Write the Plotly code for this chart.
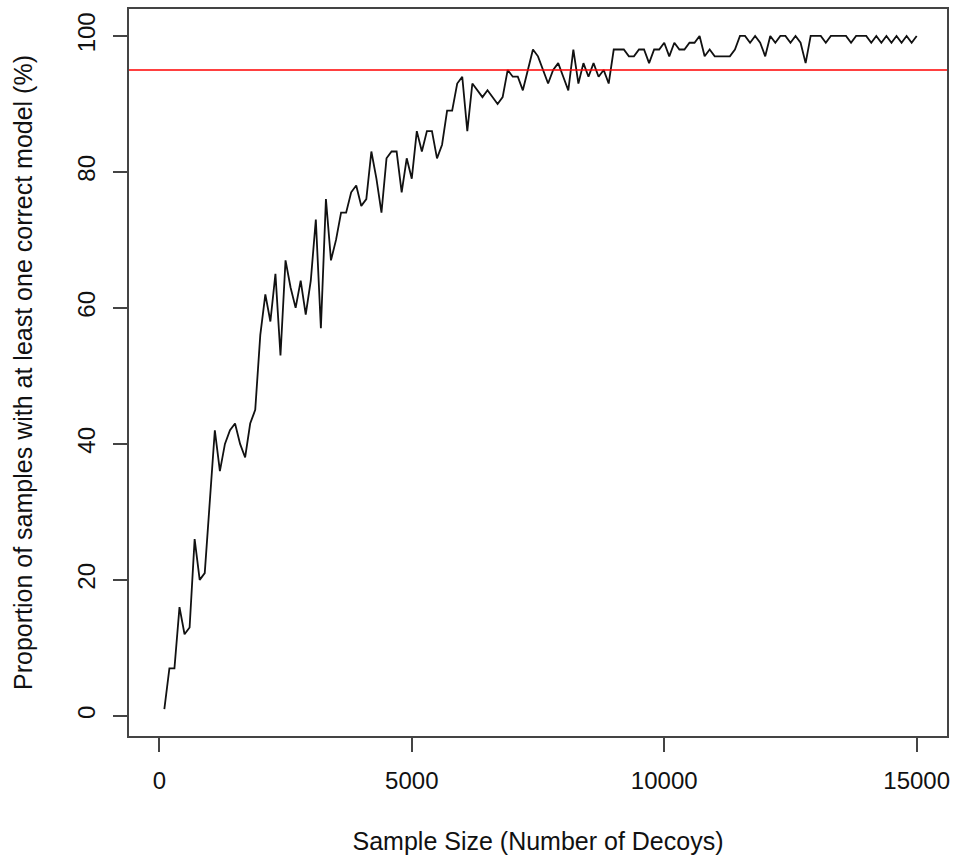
import plotly.graph_objects as go

sample_size = list(range(100, 15001, 100))
proportion = [
    1, 7, 7, 16, 12, 13, 26, 20, 21, 31,
    42, 36, 40, 42, 43, 40, 38, 43, 45, 56,
    62, 58, 65, 53, 67, 63, 60, 64, 59, 64,
    73, 57, 76, 67, 70, 74, 74, 77, 78, 75,
    76, 83, 79, 74, 82, 83, 83, 77, 82, 79,
    86, 83, 86, 86, 82, 84, 89, 89, 93, 94,
    86, 93, 92, 91, 92, 91, 90, 91, 95, 94,
    94, 92, 95, 98, 97, 95, 93, 95, 96, 94,
    92, 98, 93, 96, 94, 96, 94, 95, 93, 98,
    98, 98, 97, 97, 98, 98, 96, 98, 98, 99,
    97, 99, 98, 98, 99, 99, 100, 97, 98, 97,
    97, 97, 97, 98, 100, 100, 99, 100, 99, 97,
    100, 99, 100, 100, 99, 100, 99, 96, 100, 100,
    100, 99, 100, 100, 100, 100, 99, 100, 100, 100,
    99, 100, 99, 100, 99, 100, 99, 100, 99, 100,
]
threshold = 95
x_ticks = [0, 5000, 10000, 15000]
y_ticks = [0, 20, 40, 60, 80, 100]
x_title = "Sample Size (Number of Decoys)"
y_title = "Proportion of samples with at least one correct model (%)"

FONT = "Liberation Sans, Arial, Helvetica, sans-serif"

fig = go.Figure()
fig.add_trace(go.Scatter(
    x=sample_size, y=proportion, mode="lines",
    line=dict(color="#111111", width=1.8),
    showlegend=False, hoverinfo="x+y",
))
fig.add_shape(type="line", xref="paper", x0=0, x1=1, yref="y", y0=threshold, y1=threshold,
              line=dict(color="#ff0000", width=1.5))

fig.update_layout(
    width=957, height=858,
    margin=dict(l=129, r=9, t=7, b=122),
    paper_bgcolor="white", plot_bgcolor="white",
    font=dict(family=FONT, size=24, color="#111111"),
    xaxis=dict(
        range=[-600, 15600], tickmode="array", tickvals=x_ticks,
        ticktext=[str(v) for v in x_ticks],
        ticks="outside", ticklen=14, tickwidth=1.5, tickcolor="#444444",
        showline=True, linecolor="#444444", linewidth=1.5, mirror=True,
        showgrid=False, zeroline=False,
        ticklabelstandoff=8,
        title=dict(text=x_title, font=dict(size=25), standoff=40),
    ),
    yaxis=dict(
        range=[-2.96, 103.96], tickmode="array", tickvals=y_ticks,
        ticktext=[str(v) for v in y_ticks], tickangle=-90,
        ticks="outside", ticklen=14, tickwidth=1.5, tickcolor="#444444",
        showline=True, linecolor="#444444", linewidth=1.5, mirror=True,
        showgrid=False, zeroline=False,
        ticklabelstandoff=9,
        title=dict(text=y_title, font=dict(size=25), standoff=33),
    ),
)

fig.write_html("out.html", config={"displayModeBar": False},
               post_script="document.body.style.margin='0';")
